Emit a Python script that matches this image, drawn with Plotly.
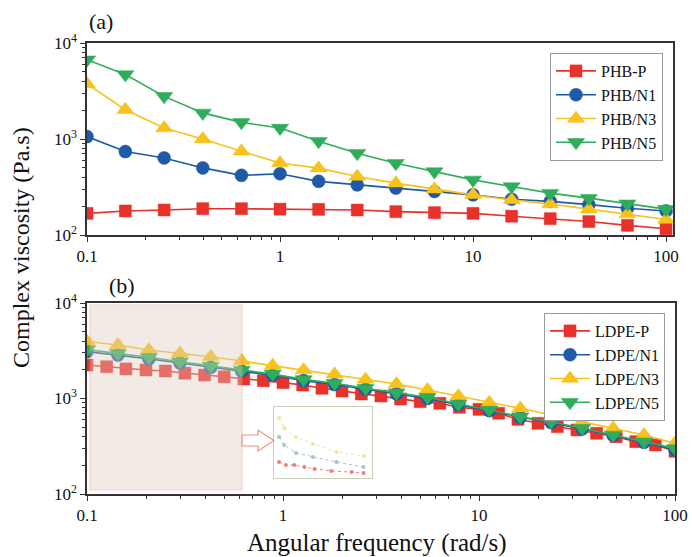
import plotly.graph_objects as go

# ---------------- data ----------------
# (a) PHB composites, 5 points per decade
freq_phb = [0.1, 0.158, 0.251, 0.398, 0.631, 1.0, 1.585, 2.512, 3.981, 6.31,
            10.0, 15.85, 25.12, 39.81, 63.1, 100.0]
phb_p = [168, 178, 182, 188, 188, 186, 185, 182, 175, 171, 168, 157, 148, 138, 126, 116]
phb_n1 = [1060, 740, 635, 500, 418, 435, 362, 333, 308, 284, 262, 236, 224, 207, 190, 178]
phb_n3 = [3750, 2020, 1300, 1000, 745, 562, 497, 407, 347, 300, 262, 232, 210, 186, 165, 145]
phb_n5 = [6700, 4700, 2780, 1870, 1490, 1300, 945, 712, 560, 458, 375, 320, 273, 242, 212, 186]

# (b) LDPE composites
freq_ldpe_p = [0.1, 0.126, 0.158, 0.2, 0.251, 0.316, 0.398, 0.501, 0.631, 0.794,
               1.0, 1.26, 1.58, 2.0, 2.51, 3.16, 3.98, 5.01, 6.31, 7.94,
               10.0, 12.6, 15.8, 20.0, 25.1, 31.6, 39.8, 50.1, 63.1, 79.4, 100.0]
ldpe_p = [2240, 2150, 2040, 1990, 1940, 1840, 1760, 1690, 1600, 1535,
          1466, 1385, 1280, 1200, 1115, 1062, 988, 927, 891, 809,
          770, 700, 605, 550, 507, 468, 432, 398, 353, 326, 280]
freq_ldpe = [0.1, 0.1438, 0.207, 0.298, 0.428, 0.616, 0.886, 1.274, 1.833, 2.637,
             3.793, 5.456, 7.848, 11.29, 16.24, 23.36, 33.6, 48.33, 69.52, 100.0]
ldpe_n1 = [3100, 2850, 2600, 2350, 2120, 1930, 1750, 1540, 1400, 1250,
           1120, 1000, 860, 745, 635, 560, 480, 410, 348, 290]
ldpe_n3 = [3950, 3630, 3220, 2970, 2740, 2470, 2210, 1990, 1790, 1585,
           1418, 1228, 1062, 903, 789, 671, 571, 488, 415, 340]
ldpe_n5 = [3250, 2970, 2700, 2430, 2190, 1985, 1800, 1585, 1443, 1280,
           1150, 1030, 875, 759, 645, 571, 488, 415, 353, 300]

# small inset: low-frequency region on linear scales
inset_x = [0.1, 0.13, 0.2, 0.3, 0.44, 0.6]
inset_n3 = [3850, 3440, 3075, 2790, 2460, 2300]
inset_n1 = [3075, 2750, 2420, 2260, 2050, 1850]
inset_px = [0.1, 0.14, 0.19, 0.25, 0.31, 0.41, 0.53, 0.6]
inset_p = [2050, 1930, 1930, 1850, 1770, 1690, 1645, 1605]

x_ticks = [0.1, 1, 10, 100]
x_ticktext = ["0.1", "1", "10", "100"]
y_ticks = [100, 1000, 10000]
y_ticktext = ["10<sup>2</sup>", "10<sup>3</sup>", "10<sup>4</sup>"]

RED = "#e8312b"
BLUE = "#1f5aa6"
YELLOW = "#f7c21b"
GREEN = "#2fad5a"
SERIF = "Liberation Serif"

W, H = 692, 557


def fx(p):
    return p / W


def fy(p):
    return 1 - p / H


minor_x = [m * 10 ** e for e in (-1, 0, 1) for m in range(2, 10)]
minor_y = [m * 10 ** e for e in (2, 3) for m in range(2, 10)]

fig = go.Figure()


def add_series(x, y, name, color, symbol, size, xa, ya, legend):
    fig.add_trace(go.Scatter(
        x=x, y=y, name=name, mode="lines+markers",
        line=dict(color=color, width=1.6),
        marker=dict(symbol=symbol, size=size, color=color,
                    line=dict(color=color, width=0.5)),
        xaxis=xa, yaxis=ya, legend=legend,
    ))


add_series(freq_phb, phb_p, "PHB-P", RED, "square", 12, "x", "y", "legend")
add_series(freq_phb, phb_n1, "PHB/N1", BLUE, "circle", 13, "x", "y", "legend")
add_series(freq_phb, phb_n3, "PHB/N3", YELLOW, "triangle-up", 15, "x", "y", "legend")
add_series(freq_phb, phb_n5, "PHB/N5", GREEN, "triangle-down", 15, "x", "y", "legend")

add_series(freq_ldpe_p, ldpe_p, "LDPE-P", RED, "square", 12, "x2", "y2", "legend2")
add_series(freq_ldpe, ldpe_n1, "LDPE/N1", BLUE, "circle", 13, "x2", "y2", "legend2")
add_series(freq_ldpe, ldpe_n3, "LDPE/N3", YELLOW, "triangle-up", 15, "x2", "y2", "legend2")
add_series(freq_ldpe, ldpe_n5, "LDPE/N5", GREEN, "triangle-down", 15, "x2", "y2", "legend2")

# inset traces (faint, dotted)
for xs, ys, c in ((inset_x, inset_n3, "#f3df80"), (inset_x, inset_n1, "#8fb5c8"),
                  (inset_px, inset_p, "#e86058")):
    fig.add_trace(go.Scatter(
        x=xs, y=ys, mode="lines+markers", showlegend=False, hoverinfo="skip",
        line=dict(color=c, width=1, dash="dot"),
        marker=dict(size=4, color=c), opacity=0.8,
        xaxis="x3", yaxis="y3",
    ))

axis_common = dict(
    type="log", showline=True, linecolor="#333", linewidth=1.5, mirror=True,
    ticks="outside", ticklen=5, tickwidth=1.2, tickcolor="#333",
    showgrid=False, zeroline=False, automargin=False,
    tickfont=dict(family=SERIF, size=17, color="#111"),
)
xminor = dict(tickmode="array", tickvals=minor_x, ticks="outside", ticklen=3,
              tickwidth=1, tickcolor="#333", showgrid=False)
yminor = dict(tickmode="array", tickvals=minor_y, ticks="outside", ticklen=3,
              tickwidth=1, tickcolor="#333", showgrid=False)

legend_common = dict(xanchor="right", yanchor="top", bordercolor="#999", borderwidth=1,
                     bgcolor="white", itemwidth=40, tracegroupgap=0,
                     font=dict(family=SERIF, size=16, color="#111"))

fig.update_layout(
    width=W, height=H,
    margin=dict(l=0, r=0, t=0, b=0, pad=0, autoexpand=False),
    paper_bgcolor="white", plot_bgcolor="rgba(0,0,0,0)",
    font=dict(family=SERIF, color="#111"),
    xaxis=dict(axis_common, domain=[fx(87), fx(673)], range=[-1, 2.036], anchor="y",
               tickmode="array", tickvals=x_ticks, ticktext=x_ticktext, minor=xminor),
    yaxis=dict(axis_common, domain=[fy(235), fy(43)], range=[2, 4], anchor="x",
               tickmode="array", tickvals=y_ticks, ticktext=y_ticktext, minor=yminor),
    xaxis2=dict(axis_common, domain=[fx(87), fx(675)], range=[-1, 2], anchor="y2",
                tickmode="array", tickvals=x_ticks, ticktext=x_ticktext, minor=xminor),
    yaxis2=dict(axis_common, domain=[fy(494), fy(303)], range=[2, 4], anchor="x2",
                tickmode="array", tickvals=y_ticks, ticktext=y_ticktext, minor=yminor),
    xaxis3=dict(domain=[fx(274), fx(372)], range=[0.07, 0.65], anchor="y3",
                showline=True, mirror=True, linecolor="#c9ceb9", linewidth=1,
                showticklabels=False, ticks="", showgrid=False, zeroline=False),
    yaxis3=dict(domain=[fy(478), fy(407)], range=[1400, 4300], anchor="x3",
                showline=True, mirror=True, linecolor="#c9ceb9", linewidth=1,
                showticklabels=False, ticks="", showgrid=False, zeroline=False),
    legend=dict(legend_common, x=fx(663), y=fy(53)),
    legend2=dict(legend_common, x=fx(665), y=fy(313)),
)

# highlighted low-frequency region in (b), drawn over the markers
fig.add_shape(type="rect", xref="paper", yref="paper",
              x0=fx(90), x1=fx(242), y0=fy(490), y1=fy(305),
              fillcolor="rgb(222,205,192)", opacity=0.4,
              line=dict(color="#ef8f80", width=1.2), layer="above")

# hollow arrow pointing to the inset
arrow_pts = [(242, 435), (258, 435), (258, 430), (274, 440.5), (258, 451), (258, 446), (242, 446)]
path = "M " + " L ".join(f"{fx(a):.5f},{fy(b):.5f}" for a, b in arrow_pts) + " Z"
fig.add_shape(type="path", xref="paper", yref="paper", path=path,
              fillcolor="white", line=dict(color="#ef8f80", width=1.2), layer="above")


def label(text, cx, cy, size, angle=0):
    fig.add_annotation(text=text, x=fx(cx), y=fy(cy), xref="paper", yref="paper",
                       xanchor="center", yanchor="middle", showarrow=False,
                       textangle=angle, font=dict(family=SERIF, size=size, color="#111"))


# panel labels and axis titles
label("(a)", 101, 22, 22)
label("(b)", 122, 285, 22)
label("Complex viscosity (Pa.s)", 21, 248, 24, angle=-90)
label("Angular frequency (rad/s)", 377, 543, 25)

fig.write_html("out.html")
